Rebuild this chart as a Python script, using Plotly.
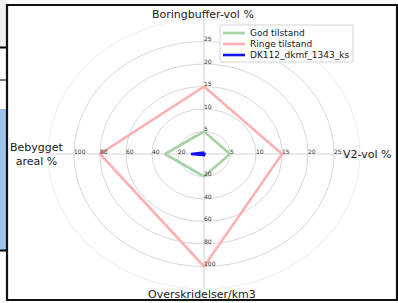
import numpy as np
import plotly.graph_objects as go

# ---------------- data ----------------
axis_labels = ["Boringbuffer-vol %", "V2-vol %", "Overskridelser/km3", "Bebygget<br>areal %"]
axis_angles_deg = [90, 0, 270, 180]
axis_max = [30, 30, 120, 120]
axis_ticks = [
    [5, 10, 15, 20, 25],
    [5, 10, 15, 20, 25],
    [20, 40, 60, 80, 100],
    [20, 40, 60, 80, 100],
]
n_rings = 6

series_names = ["God tilstand", "Ringe tilstand", "DK112_dkmf_1343_ks"]
god_values = [5, 5, 20, 30]
ringe_values = [15, 15, 100, 80]
dk_values = [0.3, 0.1, 1, 10]
series_values = [god_values, ringe_values, dk_values]
series_colors = ["#a6d2a6", "#ffb0b0", "#1414f0"]
series_widths = [2.6, 2.6, 2.6]

# ---------------- geometry helpers ----------------
W, H = 398, 303
CX, CY = 204, 154          # centre in px
SX, SY = 156, 135          # px per unit radius (horizontal / vertical)


def px(x):
    return x / W


def py(y):
    return 1 - y / H


theta = np.deg2rad(axis_angles_deg)

fig = go.Figure()

# series
for name, vals, col, lw in zip(series_names, series_values, series_colors, series_widths):
    r = np.array(vals, dtype=float) / np.array(axis_max, dtype=float)
    xs = list(r * np.cos(theta)) + [r[0] * np.cos(theta[0])]
    ys = list(r * np.sin(theta)) + [r[0] * np.sin(theta[0])]
    fig.add_trace(go.Scatter(x=xs, y=ys, mode="lines", name=name,
                             line=dict(color=col, width=lw), showlegend=False,
                             hoverinfo="skip"))

shapes = []
# rings
for k in range(1, n_rings + 1):
    f = k / n_rings
    shapes.append(dict(type="circle", xref="x", yref="y", x0=-f, x1=f, y0=-f, y1=f,
                       line=dict(color="#ebebeb" if k == n_rings else "#d2d2d2", width=0.9),
                       layer="below"))
# spokes
shapes.append(dict(type="line", xref="x", yref="y", x0=-1, x1=1, y0=0, y1=0,
                   line=dict(color="#d2d2d2", width=1), layer="below"))
shapes.append(dict(type="line", xref="x", yref="y", x0=0, x1=0, y0=-1, y1=1,
                   line=dict(color="#d2d2d2", width=1), layer="below"))

# left UI strip (screenshot surroundings)
shapes.append(dict(type="rect", xref="paper", yref="paper", x0=px(0), x1=px(7), y0=py(0), y1=py(47),
                   fillcolor="#f0f0f0", line=dict(width=0), layer="below"))
shapes.append(dict(type="line", xref="paper", yref="paper", x0=px(0), x1=px(7), y0=py(47.5), y1=py(47.5),
                   line=dict(color="black", width=2)))
shapes.append(dict(type="line", xref="paper", yref="paper", x0=px(0), x1=px(7), y0=py(80), y1=py(80),
                   line=dict(color="black", width=1)))
shapes.append(dict(type="rect", xref="paper", yref="paper", x0=px(0), x1=px(7), y0=py(109), y1=py(250),
                   fillcolor="#9dc3e6", line=dict(width=0), layer="below"))
shapes.append(dict(type="line", xref="paper", yref="paper", x0=px(0), x1=px(7), y0=py(250.5), y1=py(250.5),
                   line=dict(color="black", width=2)))
# frame
shapes.append(dict(type="rect", xref="paper", yref="paper", x0=px(7), x1=px(397), y0=py(5), y1=py(300),
                   line=dict(color="#111111", width=2.2)))

# legend (drawn)
LX0, LX1, LY0, LY1 = 220, 353, 25, 62
shapes.append(dict(type="rect", xref="paper", yref="paper", x0=px(LX0), x1=px(LX1), y0=py(LY0), y1=py(LY1),
                   fillcolor="rgba(255,255,255,0.85)", line=dict(color="#d5d5d5", width=1)))
annotations = []
row_y = [33, 44, 55]
for name, col, yy in zip(series_names, series_colors, row_y):
    shapes.append(dict(type="line", xref="paper", yref="paper", x0=px(223), x1=px(245), y0=py(yy), y1=py(yy),
                       line=dict(color=col, width=2.6)))
    annotations.append(dict(xref="paper", yref="paper", x=px(249), y=py(yy), text=name,
                            xanchor="left", yanchor="middle", showarrow=False, borderpad=0,
                            font=dict(size=9, color="#1a1a1a", family="DejaVu Sans")))

# tick labels
for th, mx, ticks in zip(theta, axis_max, axis_ticks):
    for t in ticks:
        f = t / mx
        annotations.append(dict(xref="x", yref="y", x=f * np.cos(th), y=f * np.sin(th),
                                text=str(t), xanchor="left", yanchor="middle", yshift=3, xshift=-1,
                                showarrow=False, borderpad=0,
                                font=dict(size=6, color="#333333", family="DejaVu Sans")))

# axis titles
title_font = dict(size=11, color="#1a1a1a", family="DejaVu Sans")
annotations.append(dict(xref="paper", yref="paper", x=px(203), y=py(14), text=axis_labels[0],
                        xanchor="center", yanchor="middle", showarrow=False, font=title_font))
annotations.append(dict(xref="paper", yref="paper", x=px(341), y=py(154), text=axis_labels[1],
                        xanchor="left", yanchor="middle", showarrow=False, font=title_font))
annotations.append(dict(xref="paper", yref="paper", x=px(202), y=py(294), text=axis_labels[2],
                        xanchor="center", yanchor="middle", showarrow=False, font=title_font))
annotations.append(dict(xref="paper", yref="paper", x=px(37), y=py(154), text=axis_labels[3],
                        xanchor="center", yanchor="middle", showarrow=False, align="center",
                        font=title_font))

fig.update_layout(
    width=W, height=H, autosize=False,
    margin=dict(l=0, r=0, t=0, b=0, pad=0),
    paper_bgcolor="white", plot_bgcolor="white",
    xaxis=dict(range=[-CX / SX, (W - CX) / SX], visible=False, fixedrange=True, domain=[0, 1]),
    yaxis=dict(range=[-(H - CY) / SY, CY / SY], visible=False, fixedrange=True, domain=[0, 1]),
    shapes=shapes, annotations=annotations, showlegend=False,
)

fig.write_html(
    "out.html",
    config={"displayModeBar": False, "staticPlot": True},
    post_script="document.body.style.margin='0';document.body.style.padding='0';"
                "document.body.style.overflow='hidden';",
)
